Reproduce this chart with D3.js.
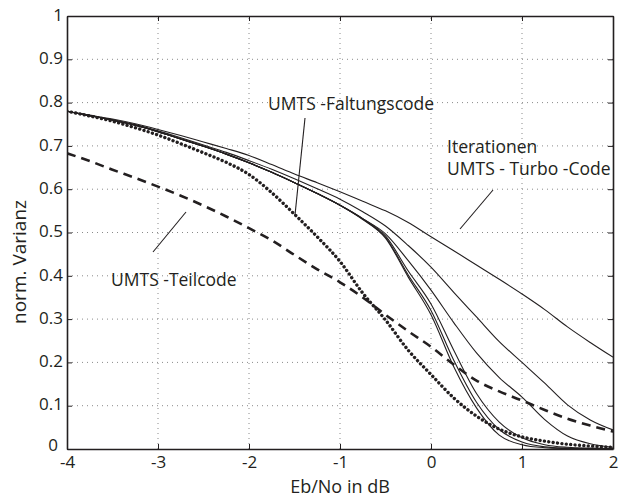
<!DOCTYPE html>
<html><head><meta charset="utf-8">
<script src="https://cdn.jsdelivr.net/npm/d3@7"></script>
<style>
html,body{margin:0;padding:0;background:#fff;}
svg text{font-family:"Open Sans",sans-serif;fill:#231f20;}
</style></head>
<body>
<svg id="c" width="621" height="499"></svg>
<script>
const xValues = [-4,-3.75,-3.5,-3.25,-3,-2.75,-2.5,-2.25,-2,-1.75,-1.5,-1.25,-1,-0.75,-0.5,-0.25,0,0.25,0.5,0.75,1,1.25,1.5,1.75,2];
const xTicks = [-4,-3,-2,-1,0,1,2];
const xTickLabels = ["-4","-3","-2","-1","0","1","2"];
const yTicks = [0,0.1,0.2,0.3,0.4,0.5,0.6,0.7,0.8,0.9,1];
const yTickLabels = ["0","0.1","0.2","0.3","0.4","0.5","0.6","0.7","0.8","0.9","1"];

// UMTS Turbo-Code iterations
const iter1 = [.780,.771,.762,.751,.738,.724,.709,.694,.678,.657,.635,.615,.594,.572,.550,.523,.490,.458,.425,.392,.358,.322,.282,.246,.212];
const iter2 = [.780,.770,.760,.749,.735,.719,.702,.685,.666,.646,.624,.601,.577,.548,.515,.470,.420,.362,.305,.248,.200,.152,.102,.067,.044];
const iter3 = [.780,.770,.760,.748,.733,.716,.699,.681,.661,.639,.615,.590,.563,.532,.497,.435,.367,.292,.222,.165,.120,.068,.030,.012,.004];
const iter4 = [.780,.770,.760,.748,.733,.716,.699,.681,.661,.639,.615,.590,.563,.530,.487,.397,.310,.190,.095,.032,.010,.003,.001,0,0];
const iter5 = [.780,.770,.760,.748,.733,.716,.699,.681,.661,.639,.615,.590,.563,.531,.489,.402,.320,.205,.108,.045,.016,.005,.002,.001,0];
const iter6 = [.780,.770,.760,.748,.733,.716,.699,.681,.661,.639,.615,.590,.563,.532,.492,.411,.335,.228,.128,.062,.026,.010,.004,.002,.001];
// UMTS Faltungscode (dotted)
const faltung = [.780,.769,.757,.742,.725,.705,.684,.662,.634,.592,.542,.490,.433,.360,.298,.228,.172,.118,.076,.046,.028,.018,.011,.007,.004];
// UMTS Teilcode (dashed)
const teil = [.683,.665,.645,.626,.606,.585,.562,.537,.510,.482,.448,.415,.385,.350,.310,.272,.236,.195,.158,.133,.112,.090,.070,.054,.040];

const svg = d3.select("#c");
const x = d3.scaleLinear().domain([-4,2]).range([67,613]);
const y = d3.scaleLinear().domain([0,1]).range([449,16]);
const ink = "#231f20";

// grid
const g = svg.append("g");
g.selectAll(".gx").data(xTicks.slice(1,-1)).enter().append("line")
  .attr("x1",d=>x(d)).attr("x2",d=>x(d)).attr("y1",y(0)).attr("y2",y(1))
  .attr("stroke","#8a8a8a").attr("stroke-width",1).attr("stroke-dasharray","1,4");
g.selectAll(".gy").data(yTicks.slice(1,-1)).enter().append("line")
  .attr("y1",d=>y(d)).attr("y2",d=>y(d)).attr("x1",x(-4)).attr("x2",x(2))
  .attr("stroke","#8a8a8a").attr("stroke-width",1).attr("stroke-dasharray","1,4");

// curves
const line = d3.line().x((d,i)=>x(xValues[i])).y(d=>y(d)).curve(d3.curveMonotoneX);
svg.append("clipPath").attr("id","pc").append("rect")
  .attr("x",x(-4)).attr("y",y(1)).attr("width",x(2)-x(-4)).attr("height",y(0)-y(1)+2);
const cg = svg.append("g").attr("clip-path","url(#pc)");
[iter1,iter2,iter3,iter4,iter5,iter6].forEach(s=>{
  cg.append("path").attr("d",line(s)).attr("fill","none").attr("stroke",ink).attr("stroke-width",1.1);
});
cg.append("path").attr("d",line(teil)).attr("fill","none").attr("stroke",ink)
  .attr("stroke-width",2.6).attr("stroke-dasharray","9,6");
cg.append("path").attr("d",line(faltung)).attr("fill","none").attr("stroke",ink)
  .attr("stroke-width",3.4).attr("stroke-linecap","round").attr("stroke-dasharray","0.01,4.4");

// axes (box with inward ticks)
const axB = d3.axisBottom(x).tickValues(xTicks).tickSizeInner(-5).tickSizeOuter(0).tickPadding(7).tickFormat((d,i)=>xTickLabels[i]);
const axT = d3.axisTop(x).tickValues(xTicks).tickSizeInner(-5).tickSizeOuter(0).tickFormat("");
const axL = d3.axisLeft(y).tickValues(yTicks).tickSizeInner(-5).tickSizeOuter(0).tickPadding(4).tickFormat((d,i)=>yTickLabels[i]);
const axR = d3.axisRight(y).tickValues(yTicks).tickSizeInner(-5).tickSizeOuter(0).tickFormat("");
function style(sel){
  sel.select(".domain").attr("stroke",ink).attr("stroke-width",1.6);
  sel.selectAll(".tick line").attr("stroke",ink).attr("stroke-width",1);
  sel.selectAll("text").attr("font-size",17).attr("font-family","Open Sans, sans-serif").attr("fill",ink);
}
svg.append("g").attr("transform",`translate(0,${y(0)})`).call(axB).call(style);
svg.append("g").attr("transform",`translate(0,${y(1)})`).call(axT).call(style);
const gl = svg.append("g").attr("transform",`translate(${x(-4)},0)`).call(axL).call(style);
gl.selectAll("text").attr("dy","0.25em");
gl.selectAll("text").filter((d,i)=>i===0).attr("x",-9).attr("dy","0.1em");

svg.append("g").attr("transform",`translate(${x(2)},0)`).call(axR).call(style);

// axis labels
svg.append("text").attr("x",340).attr("y",493).attr("text-anchor","middle").attr("font-size",18).text("Eb/No in dB");
svg.append("text").attr("transform","translate(26,262) rotate(-90)").attr("text-anchor","middle").attr("font-size",19).text("norm. Varianz");

// annotations
svg.append("text").attr("x",268).attr("y",110).attr("font-size",17.5).text("UMTS -Faltungscode");
svg.append("line").attr("x1",305).attr("y1",118).attr("x2",295).attr("y2",215).attr("stroke",ink).attr("stroke-width",1.1);
svg.append("text").attr("x",447).attr("y",153).attr("font-size",17.5).text("Iterationen");
svg.append("text").attr("x",447).attr("y",175).attr("font-size",17.5).text("UMTS - Turbo -Code");
svg.append("line").attr("x1",493).attr("y1",190).attr("x2",460).attr("y2",229).attr("stroke",ink).attr("stroke-width",1.1);
svg.append("text").attr("x",111).attr("y",286).attr("font-size",17.5).text("UMTS -Teilcode");
svg.append("line").attr("x1",186).attr("y1",212).attr("x2",153).attr("y2",252).attr("stroke",ink).attr("stroke-width",1.1);
</script>
</body></html>
